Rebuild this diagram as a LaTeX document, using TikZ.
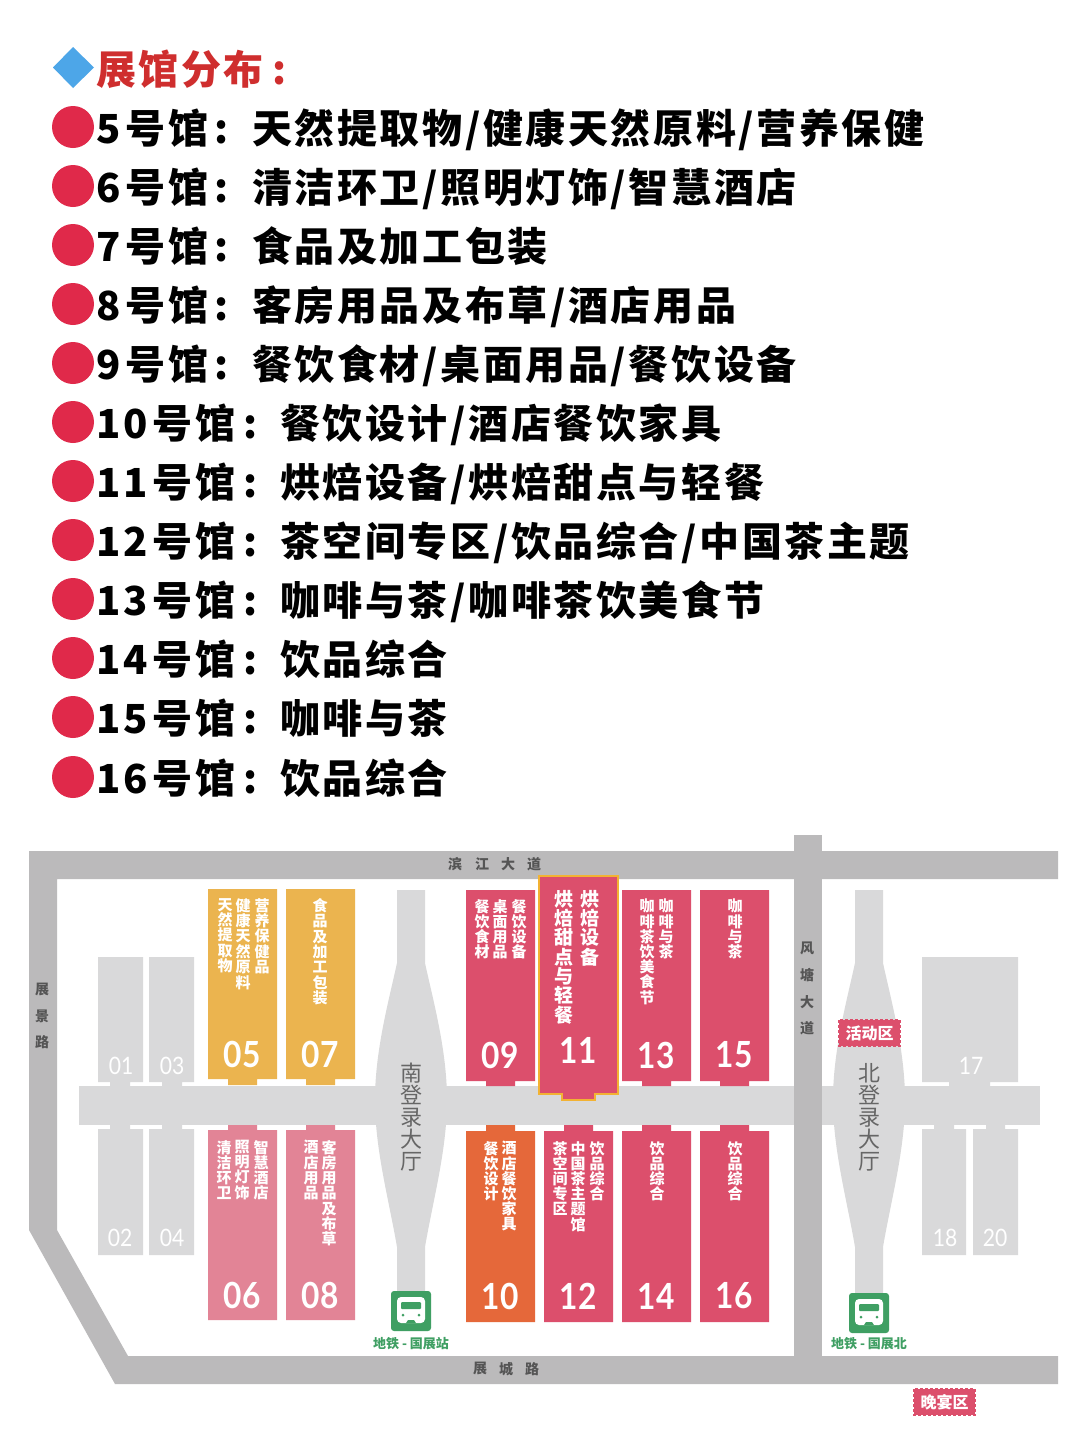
\documentclass[tikz,border=0pt]{standalone}
\usepackage{fontspec}
\setmainfont{Noto Sans CJK SC}
\newfontfamily\listf[LetterSpace=6.5]{Noto Sans CJK SC}
\newfontfamily\cjkf{Noto Sans CJK SC}
\newfontfamily\numf{Lato}
\definecolor{roadc}{HTML}{BBBABB}
\definecolor{lightc}{HTML}{D9D9DA}
\definecolor{redh}{HTML}{DC4F6C}
\definecolor{orangeh}{HTML}{E5683A}
\definecolor{yellowh}{HTML}{EBB44F}
\definecolor{pinkh}{HTML}{E28496}
\definecolor{edgey}{HTML}{F2B233}
\definecolor{greenb}{HTML}{3F9F63}
\definecolor{titlec}{HTML}{CF2E2E}
\definecolor{dotc}{HTML}{E0294A}
\definecolor{diac}{HTML}{4DA6E8}
\definecolor{roadt}{HTML}{555555}
\definecolor{lobbyt}{HTML}{666666}
\makeatletter
\def\vcharsi#1{\ifx#1\relax\else\hbox to 1em{\hss#1\hss}\expandafter\vcharsi\fi}
\newcommand{\vchars}[2]{\vbox{\baselineskip=#1pt\lineskiplimit=-1000pt\vcharsi#2\relax}}
\makeatother
\newcommand{\nb}[1]{\scalebox{0.88}[1]{#1}}
\tikzset{
  x=1pt,y=-1pt,
  lst/.style={anchor=base west,inner sep=0pt,font=\listf\fontsize{40}{48}\selectfont\bfseries},
  vt/.style={anchor=north,inner sep=0pt,text=white,font=\cjkf\fontsize{15}{16}\selectfont\bfseries},
  vtbig/.style={anchor=north,inner sep=0pt,text=white,font=\cjkf\fontsize{19}{20}\selectfont\bfseries},
  num/.style={inner sep=0pt,text=white,font=\numf\fontsize{36}{40}\selectfont\bfseries},
  numg/.style={inner sep=0pt,text=white,font=\numf\fontsize{24}{28}\selectfont},
  roadl/.style={inner sep=0pt,text=roadt,font=\cjkf\fontsize{14}{15}\selectfont\bfseries},
  lobbyl/.style={anchor=north,inner sep=0pt,text=lobbyt,font=\cjkf\fontsize{22}{24}\selectfont},
  metro/.style={inner sep=0pt,text=greenb,font=\cjkf\fontsize{13}{15}\selectfont\bfseries},
  zone/.style={fill=redh,draw=redh,dashed,dash pattern=on 3pt off 2pt,line width=1.6pt},
  zonet/.style={inner sep=0pt,text=white,font=\cjkf\fontsize{16}{18}\selectfont\bfseries},
}
\newcommand{\hallup}[8]{\fill[#8] (#1,#3)--(#2,#3)--(#2,#4)--(#6,#4)--(#6,#7)--(#5,#7)--(#5,#4)--(#1,#4)--cycle;}
\newcommand{\halldn}[8]{\fill[#8] (#1,#3)--(#5,#3)--(#5,#7)--(#6,#7)--(#6,#3)--(#2,#3)--(#2,#4)--(#1,#4)--cycle;}
\newcommand{\lobby}[1]{\fill[lightc,shift={(#1,0)}] (-14,890)--(14,890)--(14,963)
  .. controls (22,1000) and (36,1050) .. (36,1100)
  .. controls (36,1150) and (22,1200) .. (14,1247)--(14,1300)--(-14,1300)--(-14,1247)
  .. controls (-22,1200) and (-36,1150) .. (-36,1100)
  .. controls (-36,1050) and (-22,1000) .. (-14,963)--cycle;}
\newcommand{\busicon}[2]{\begin{scope}[shift={(#1,#2)}]
  \fill[greenb,rounded corners=3pt] (-20,-20) rectangle (20,20);
  \fill[white,rounded corners=4pt] (-14,-14) rectangle (14,12);
  \fill[greenb,rounded corners=1pt] (-10,-9) rectangle (10,-2);
  \fill[greenb] (-8,4) circle (1.5) (8,4) circle (1.5);
  \fill[greenb] (-5,12)--(-3,9)--(3,9)--(5,12)--cycle;
\end{scope}}
\newcommand{\listrow}[6]{% name,y,label,colon x,content x,content
  \fill[dotc] (73,#2-2) circle (21);
  \node[lst] (lab#1) at (96,#2+14) {#3};
  \node[lst,anchor=base] (col#1) at (#4,#2+14) {:};
  \node[lst] (txt#1) at (#5,#2+14) {#6};}
\begin{document}
\begin{tikzpicture}
\useasboundingbox (0,0) rectangle (1080,1443);
\fill[white] (0,0) rectangle (1080,1443);
% list
\fill[diac] (73,47)--(94,67.5)--(73,88)--(53,67.5)--cycle;
\node[lst,text=titlec] (title) at (96,84) {展馆分布};
\node[lst,anchor=base,text=titlec] (titlecolon) at (280,84) {:};
\listrow{a}{129}{5\kern5pt 号馆}{222}{252}{天然提取物/健康天然原料/营养保健}
\listrow{b}{188}{6\kern5pt 号馆}{222}{252}{清洁环卫/照明灯饰/智慧酒店}
\listrow{c}{247}{7\kern5pt 号馆}{222}{252}{食品及加工包装}
\listrow{d}{306}{8\kern5pt 号馆}{222}{252}{客房用品及布草/酒店用品}
\listrow{e}{365}{9\kern5pt 号馆}{222}{252}{餐饮食材/桌面用品/餐饮设备}
\listrow{f}{424}{10\kern5pt 号馆}{251}{280}{餐饮设计/酒店餐饮家具}
\listrow{g}{483}{11\kern5pt 号馆}{251}{280}{烘焙设备/烘焙甜点与轻餐}
\listrow{h}{542}{12\kern5pt 号馆}{251}{280}{茶空间专区/饮品综合/中国茶主题}
\listrow{i}{601}{13\kern5pt 号馆}{251}{280}{咖啡与茶/咖啡茶饮美食节}
\listrow{j}{660}{14\kern5pt 号馆}{251}{280}{饮品综合}
\listrow{k}{719}{15\kern5pt 号馆}{251}{280}{咖啡与茶}
\listrow{l}{779}{16\kern5pt 号馆}{251}{280}{饮品综合}
% light floor
\fill[lightc] (79,1086) rectangle (1040,1125);
\lobby{411}
\lobby{869}
% grey halls
\hallup{98}{143}{957}{1082}{110}{130}{1087}{lightc}
\hallup{149}{194}{957}{1082}{162}{182}{1087}{lightc}
\hallup{922}{1018}{957}{1082}{949}{990}{1087}{lightc}
\halldn{98}{143}{1129}{1255}{110}{130}{1124}{lightc}
\halldn{149}{194}{1129}{1255}{162}{182}{1124}{lightc}
\halldn{922}{966}{1129}{1255}{934}{954}{1124}{lightc}
\halldn{973}{1018}{1129}{1255}{986}{1005}{1124}{lightc}
% roads
\fill[roadc,even odd rule] (29,851)--(1058,851)--(1058,879)--(57,879)--(57,1230)--(128,1356)--(1058,1356)--(1058,1384)--(115,1384)--(29,1230)--cycle;
\fill[roadc] (794,835) rectangle (822,1356);
% colour halls
\hallup{208}{277}{889}{1079}{228}{257}{1085}{yellowh}
\hallup{286}{355}{889}{1079}{306}{335}{1085}{yellowh}
\halldn{208}{277}{1130}{1320}{228}{257}{1125}{pinkh}
\halldn{286}{355}{1130}{1320}{306}{335}{1125}{pinkh}
\hallup{466}{535}{890}{1081}{486}{515}{1086}{redh}
\hallup{622}{691}{890}{1081}{642}{671}{1086}{redh}
\hallup{700}{769}{890}{1081}{720}{749}{1086}{redh}
\halldn{466}{535}{1131}{1322}{486}{515}{1125}{orangeh}
\halldn{544}{613}{1131}{1322}{564}{593}{1125}{redh}
\halldn{622}{691}{1131}{1322}{642}{671}{1125}{redh}
\halldn{700}{769}{1131}{1322}{720}{749}{1125}{redh}
\hallup{539}{618}{876}{1094}{562}{595}{1100}{redh,draw=edgey,line width=2.6pt}
% hall numbers
\node[numg] (n01) at (121,1066) {\nb{01}};
\node[numg] (n03) at (172,1066) {\nb{03}};
\node[numg] (n02) at (120,1238) {\nb{02}};
\node[numg] (n04) at (172,1238) {\nb{04}};
\node[numg] (n17) at (971,1066) {\nb{17}};
\node[numg] (n18) at (945,1238) {\nb{18}};
\node[numg] (n20) at (995,1238) {\nb{20}};
\node[num] (n05) at (242,1054) {\nb{05}};
\node[num] (n07) at (320,1054) {\nb{07}};
\node[num] (n06) at (242,1295) {\nb{06}};
\node[num] (n08) at (320,1295) {\nb{08}};
\node[num] (n09) at (500,1055) {\nb{09}};
\node[num] (n11) at (578,1050) {\nb{11}};
\node[num] (n13) at (656,1055) {\nb{13}};
\node[num] (n15) at (734,1055) {\nb{15}};
\node[num] (n10) at (500,1296) {\nb{10}};
\node[num] (n12) at (578,1296) {\nb{12}};
\node[num] (n14) at (656,1296) {\nb{14}};
\node[num] (n16) at (734,1296) {\nb{16}};
% hall texts
\node[vt] (t05a) at (225,898) {\vchars{15.4}{天然提取物}};
\node[vt] (t05b) at (243,898) {\vchars{15.4}{健康天然原料}};
\node[vt] (t05c) at (262,898) {\vchars{15.4}{营养保健品}};
\node[vt] (t07) at (320,898) {\vchars{15.4}{食品及加工包装}};
\node[vt] (t06a) at (224,1140) {\vchars{15.2}{清洁环卫}};
\node[vt] (t06b) at (242,1140) {\vchars{15.2}{照明灯饰}};
\node[vt] (t06c) at (261,1140) {\vchars{15.2}{智慧酒店}};
\node[vt] (t08a) at (311,1140) {\vchars{15.2}{酒店用品}};
\node[vt] (t08b) at (329,1140) {\vchars{15.2}{客房用品及布草}};
\node[vt] (t09a) at (482,899) {\vchars{15.2}{餐饮食材}};
\node[vt] (t09b) at (500,899) {\vchars{15.2}{桌面用品}};
\node[vt] (t09c) at (519,899) {\vchars{15.2}{餐饮设备}};
\node[vtbig] (t11a) at (564,890) {\vchars{19.3}{烘焙甜点与轻餐}};
\node[vtbig] (t11b) at (590,890) {\vchars{19.3}{烘焙设备}};
\node[vt] (t13a) at (647,899) {\vchars{15.2}{咖啡茶饮美食节}};
\node[vt] (t13b) at (666,899) {\vchars{15.2}{咖啡与茶}};
\node[vt] (t15) at (735,899) {\vchars{15.2}{咖啡与茶}};
\node[vt] (t10a) at (491,1141) {\vchars{15.2}{餐饮设计}};
\node[vt] (t10b) at (509,1141) {\vchars{15.2}{酒店餐饮家具}};
\node[vt] (t12a) at (560,1141) {\vchars{15.2}{茶空间专区}};
\node[vt] (t12b) at (578,1141) {\vchars{15.2}{中国茶主题馆}};
\node[vt] (t12c) at (597,1141) {\vchars{15.2}{饮品综合}};
\node[vt] (t14) at (657,1141) {\vchars{15.2}{饮品综合}};
\node[vt] (t16) at (735,1141) {\vchars{15.2}{饮品综合}};
% road labels
\node[roadl] (r1a) at (455,864) {滨};
\node[roadl] (r1b) at (482,864) {江};
\node[roadl] (r1c) at (508,864) {大};
\node[roadl] (r1d) at (534,864) {道};
\node[roadl] (r2a) at (480,1369) {展};
\node[roadl] (r2b) at (506,1369) {城};
\node[roadl] (r2c) at (532,1369) {路};
\node[roadl] (r3a) at (42,990) {展};
\node[roadl] (r3b) at (42,1016) {景};
\node[roadl] (r3c) at (42,1042) {路};
\node[roadl] (r4a) at (807,948) {风};
\node[roadl] (r4b) at (807,975) {塘};
\node[roadl] (r4c) at (807,1002) {大};
\node[roadl] (r4d) at (807,1028) {道};
% lobby labels
\node[lobbyl] (ls) at (411,1063) {\vchars{22}{南登录大厅}};
\node[lobbyl] (ln) at (869,1063) {\vchars{22}{北登录大厅}};
% zones
\draw[zone] (839,1020) rectangle (900,1046);
\node[zonet] (z1) at (869.5,1033) {活动区};
\draw[zone] (914,1389) rectangle (975,1415);
\node[zonet] (z2) at (944.5,1402) {晚宴区};
% metro
\busicon{411}{1311}
\busicon{869}{1313}
\node[metro] (m1) at (411,1344) {地铁 - 国展站};
\node[metro] (m2) at (869,1344) {地铁 - 国展北};
\end{tikzpicture}
\end{document}
